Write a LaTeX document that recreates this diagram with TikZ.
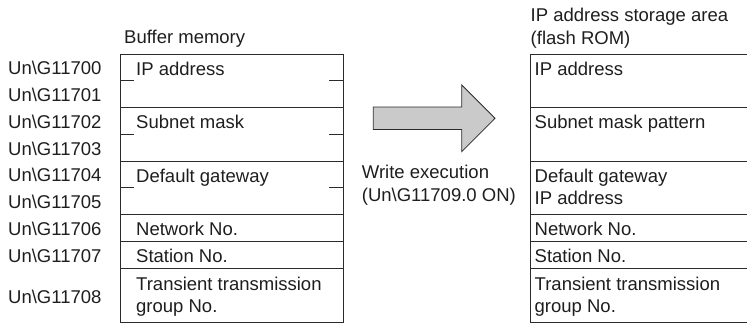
\documentclass[tikz,border=0pt]{standalone}
\usepackage{fontspec}
\setmainfont{Liberation Sans}
\definecolor{linec}{HTML}{2B2B2B}
\definecolor{txtc}{HTML}{1E1E1E}
\definecolor{arrowfill}{HTML}{CACACA}
\begin{document}
\begin{tikzpicture}[x=1pt,y=-1pt,
  cell/.style={draw=linec, line width=0.9pt, rectangle, inner sep=0pt, anchor=north west},
  txt/.style={anchor=base west, inner sep=0pt, text=txtc, font=\fontsize{18.5}{22.3}\selectfont},
  tick/.style={draw=linec, line width=0.9pt}]
\useasboundingbox (0,0) rectangle (747,325);

% headers
\node[txt] (hbuf) at (124,43.3) {Buffer memory};
\node[txt] (hip1) at (530.5,21.7) {IP address storage area};
\node[txt] (hip2) at (530.5,44) {(flash ROM)};

% left table cells
\node[cell, minimum width=222.5pt, minimum height=53.5pt] (L1) at (120,53.5) {};
\node[cell, minimum width=222.5pt, minimum height=53.5pt] (L2) at (120,107) {};
\node[cell, minimum width=222.5pt, minimum height=53.5pt] (L3) at (120,160.5) {};
\node[cell, minimum width=222.5pt, minimum height=27pt] (L4) at (120,214) {};
\node[cell, minimum width=222.5pt, minimum height=27pt] (L5) at (120,241) {};
\node[cell, minimum width=222.5pt, minimum height=53.5pt] (L6) at (120,268) {};

% word boundary ticks
\coordinate (t1a) at (120,80);   \coordinate (t1b) at (133.5,80);
\coordinate (t1c) at (329,80);   \coordinate (t1d) at (342.5,80);
\coordinate (t2a) at (120,134);  \coordinate (t2b) at (133.5,134);
\coordinate (t2c) at (329,134);  \coordinate (t2d) at (342.5,134);
\coordinate (t3a) at (120,187);  \coordinate (t3b) at (133.5,187);
\coordinate (t3c) at (329,187);  \coordinate (t3d) at (342.5,187);
\draw[tick] (t1a) -- (t1b) (t1c) -- (t1d);
\draw[tick] (t2a) -- (t2b) (t2c) -- (t2d);
\draw[tick] (t3a) -- (t3b) (t3c) -- (t3d);

% left table texts
\node[txt] (L1t) at (136,75.3) {IP address};
\node[txt] (L2t) at (136,128.8) {Subnet mask};
\node[txt] (L3t) at (136,182.3) {Default gateway};
\node[txt] (L4t) at (136,235.8) {Network No.};
\node[txt] (L5t) at (136,262.8) {Station No.};
\node[txt] (L6t) at (136,290.5) {Transient transmission};
\node[txt] (L6u) at (136,312.8) {group No.};

% addresses
\node[txt] (a0) at (8,74.5) {Un\textbackslash G11700};
\node[txt] (a1) at (8,101) {Un\textbackslash G11701};
\node[txt] (a2) at (8,128) {Un\textbackslash G11702};
\node[txt] (a3) at (8,155) {Un\textbackslash G11703};
\node[txt] (a4) at (8,181.5) {Un\textbackslash G11704};
\node[txt] (a5) at (8,208) {Un\textbackslash G11705};
\node[txt] (a6) at (8,235) {Un\textbackslash G11706};
\node[txt] (a7) at (8,262) {Un\textbackslash G11707};
\node[txt] (a8) at (8,303) {Un\textbackslash G11708};

% arrow
\draw[draw=linec, line width=0.8pt, fill=arrowfill]
  (373.3,107) -- (461.7,107) -- (461.7,85) -- (495,118.3) -- (461.7,151.7)
  -- (461.7,129.5) -- (373.3,129.5) -- cycle;
\node[txt] (w1) at (361.7,178.5) {Write execution};
\node[txt] (w2) at (361.7,201) {(Un\textbackslash G11709.0 ON)};

% right table cells
\node[cell, minimum width=219pt, minimum height=53.5pt] (R1) at (530,53.5) {};
\node[cell, minimum width=219pt, minimum height=53.5pt] (R2) at (530,107) {};
\node[cell, minimum width=219pt, minimum height=53.5pt] (R3) at (530,160.5) {};
\node[cell, minimum width=219pt, minimum height=27pt] (R4) at (530,214) {};
\node[cell, minimum width=219pt, minimum height=27pt] (R5) at (530,241) {};
\node[cell, minimum width=219pt, minimum height=53.5pt] (R6) at (530,268) {};

\node[txt] (R1t) at (534.5,75.3) {IP address};
\node[txt] (R2t) at (534.5,128.8) {Subnet mask pattern};
\node[txt] (R3t) at (534.5,182.3) {Default gateway};
\node[txt] (R3u) at (534.5,204.6) {IP address};
\node[txt] (R4t) at (534.5,235.8) {Network No.};
\node[txt] (R5t) at (534.5,262.8) {Station No.};
\node[txt] (R6t) at (534.5,290.5) {Transient transmission};
\node[txt] (R6u) at (534.5,312.8) {group No.};
\end{tikzpicture}
\end{document}
